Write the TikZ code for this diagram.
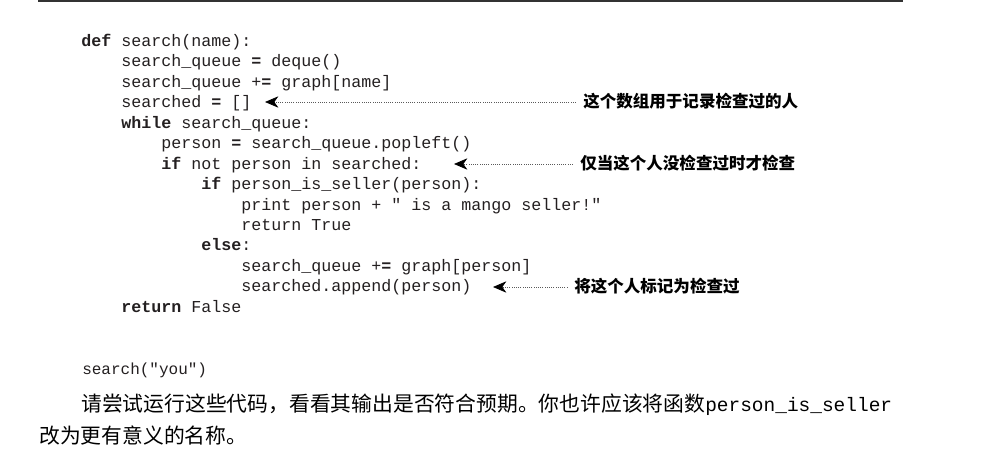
\documentclass[tikz,border=0pt]{standalone}
\usepackage{fontspec}
\setmonofont{Liberation Mono}
\newfontfamily\cjk{Noto Sans CJK SC}
\usetikzlibrary{arrows.meta}
\definecolor{ink}{RGB}{35,31,32}
\definecolor{rulegray}{RGB}{50,50,50}
\definecolor{dotgray}{RGB}{90,90,90}
\tikzset{
  code/.style={anchor=base west, inner sep=0pt, text=ink, font=\ttfamily\fontsize{12.5}{15}\selectfont},
  smallcode/.style={anchor=base west, inner sep=0pt, text=ink, font=\ttfamily\fontsize{12}{14}\selectfont},
  note/.style={anchor=base west, inner sep=0pt, text=black, font=\cjk\bfseries\fontsize{12.4}{15}\selectfont},
  body/.style={anchor=base west, inner sep=0pt, text=black, font=\cjk\fontsize{15.6}{18}\selectfont},
  annot/.style={draw=dotgray, line width=0.55pt, dash pattern=on 0.55pt off 1.1pt,
     -{Stealth[length=10pt, width=8.5pt, inset=3pt, color=black, fill=black]}},
}
\newcommand{\kw}[1]{\textbf{#1}}
\begin{document}
\begin{tikzpicture}[x=0.75pt,y=-0.75pt]
\useasboundingbox (0,0) rectangle (989,459);
\draw[rulegray, line width=1.5pt] (38,1) -- (903,1);

% code lines: baseline 46.5 + 20.45 k, indent 40px per level
\node[code] (c0)  at (81, 46.5)  {\kw{def} search(name):};
\node[code] (c1)  at (121, 66.95) {search\_queue \kw{=} deque()};
\node[code] (c2)  at (121, 87.4)  {search\_queue +\kw{=} graph[name]};
\node[code] (c3)  at (121,107.85) {searched \kw{=} []};
\node[code] (c4)  at (121,128.3)  {\kw{while} search\_queue:};
\node[code] (c5)  at (161,148.75) {person \kw{=} search\_queue.popleft()};
\node[code] (c6)  at (161,169.2)  {\kw{if} not person in searched:};
\node[code] (c7)  at (201,189.65) {\kw{if} person\_is\_seller(person):};
\node[code] (c8)  at (241,210.1)  {print person + " is a mango seller!"};
\node[code] (c9)  at (241,230.55) {return True};
\node[code] (c10) at (201,251.0)  {\kw{else}:};
\node[code] (c11) at (241,271.45) {search\_queue +\kw{=} graph[person]};
\node[code] (c12) at (241,291.9)  {searched.append(person)};
\node[code] (c13) at (121,312.35) {\kw{return} False};

\node[smallcode] (call) at (82,375) {search("you")};

% annotations
\node[note] (n1) at (583,108) {这个数组用于记录检查过的人};
\node[note] (n2) at (580,170) {仅当这个人没检查过时才检查};
\node[note] (n3) at (574,293) {将这个人标记为检查过};
\coordinate (t1) at (265,102);
\coordinate (t2) at (454,164);
\coordinate (t3) at (493,287);
\draw[annot, shorten <=5.5pt] (t1 -| n1.west) -- (t1);
\draw[annot, shorten <=5.5pt] (t2 -| n2.west) -- (t2);
\draw[annot, shorten <=5pt] (t3 -| n3.west) -- (t3);

% body text
\node[body] (p1) at (81,412) {请尝试运行这些代码，看看其输出是否符合预期。你也许应该将函数{\ttfamily\fontsize{14.6}{17}\selectfont person\_is\_seller}};
\node[body] (p2) at (39,444) {改为更有意义的名称。};
\end{tikzpicture}
\end{document}
